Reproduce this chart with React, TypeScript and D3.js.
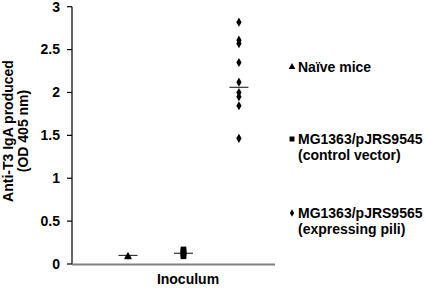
import React from "react";
import * as d3 from "d3";

const groups = ["Naïve mice", "MG1363/pJRS9545", "MG1363/pJRS9565"];
const groupPos = [1, 2, 3];
const naiveValues = [0.08, 0.09];
const controlValues = [0.09, 0.11, 0.13, 0.15, 0.17];
const piliValues = [2.82, 2.61, 2.57, 2.35, 2.12, 2.0, 1.95, 1.845, 1.465];
const centerLines = [0.1, 0.125, 2.06];
const yTicks = [0, 0.5, 1, 1.5, 2, 2.5, 3];
const legendLines = [["Naïve mice"], ["MG1363/pJRS9545", "(control vector)"], ["MG1363/pJRS9565", "(expressing pili)"]];
const shapes = [d3.symbolTriangle, d3.symbolSquare, d3.symbolDiamond];
const symbolSizes = [24, 32, 24];
const legendSizes = [20, 25, 16];

const FONT = "'Liberation Sans', Arial, sans-serif";

export default function App() {
  const W = 425, H = 288;
  const x = d3.scaleLinear().domain([0, 3.65]).range([72.5, 275]);
  const y = d3.scaleLinear().domain([0, 3]).range([264, 6.7]);
  const series = [naiveValues, controlValues, piliValues];
  const legendY = [67, 139, 213];

  return (
    <svg width={W} height={H} style={{ position: "absolute", left: 0, top: 0, background: "#fff" }}
      fontFamily={FONT} fontWeight="bold" fontSize={14}>
      {/* y axis */}
      <line x1={72} x2={72} y1={y(3)} y2={y(0)} stroke="#000" strokeWidth={1.2} />
      {yTicks.map(t => (
        <g key={t}>
          <line x1={67} x2={72} y1={y(t)} y2={y(t)} stroke="#000" strokeWidth={1.2} />
          <text x={60} y={y(t)} dy="0.35em" textAnchor="end">{t}</text>
        </g>
      ))}
      {/* x axis */}
      <line x1={72} x2={275} y1={y(0) + 0.5} y2={y(0) + 0.5} stroke="#808080" strokeWidth={2} />
      <text x={188} y={279.5} dy="0.35em" textAnchor="middle">Inoculum</text>
      {/* y title */}
      <g transform={`translate(8,131) rotate(-90)`}>
        <text dy="0.35em" textAnchor="middle">Anti-T3 IgA produced</text>
      </g>
      <g transform={`translate(23,131) rotate(-90)`}>
        <text dy="0.35em" textAnchor="middle">(OD 405 nm)</text>
      </g>
      {/* center lines */}
      {centerLines.map((v, i) => (
        <line key={i} x1={x(groupPos[i]) - 9.5} x2={x(groupPos[i]) + 9.5} y1={y(v)} y2={y(v)} stroke="#333" strokeWidth={1.2} />
      ))}
      {/* points */}
      {series.map((vals, i) => vals.map((v, j) => (
        <path key={`${i}-${j}`} d={d3.symbol().type(shapes[i]).size(symbolSizes[i])() as string}
          transform={`translate(${x(groupPos[i])},${y(v)})`} fill="#000" />
      )))}
      {/* legend */}
      {groups.map((g, i) => (
        <g key={g}>
          <path d={d3.symbol().type(shapes[i]).size(legendSizes[i])() as string}
            transform={`translate(292,${legendY[i]})`} fill="#000" />
          {legendLines[i].map((l, k) => (
            <text key={k} x={298} y={legendY[i] + k * 16} dy="0.35em">{l}</text>
          ))}
        </g>
      ))}
    </svg>
  );
}
